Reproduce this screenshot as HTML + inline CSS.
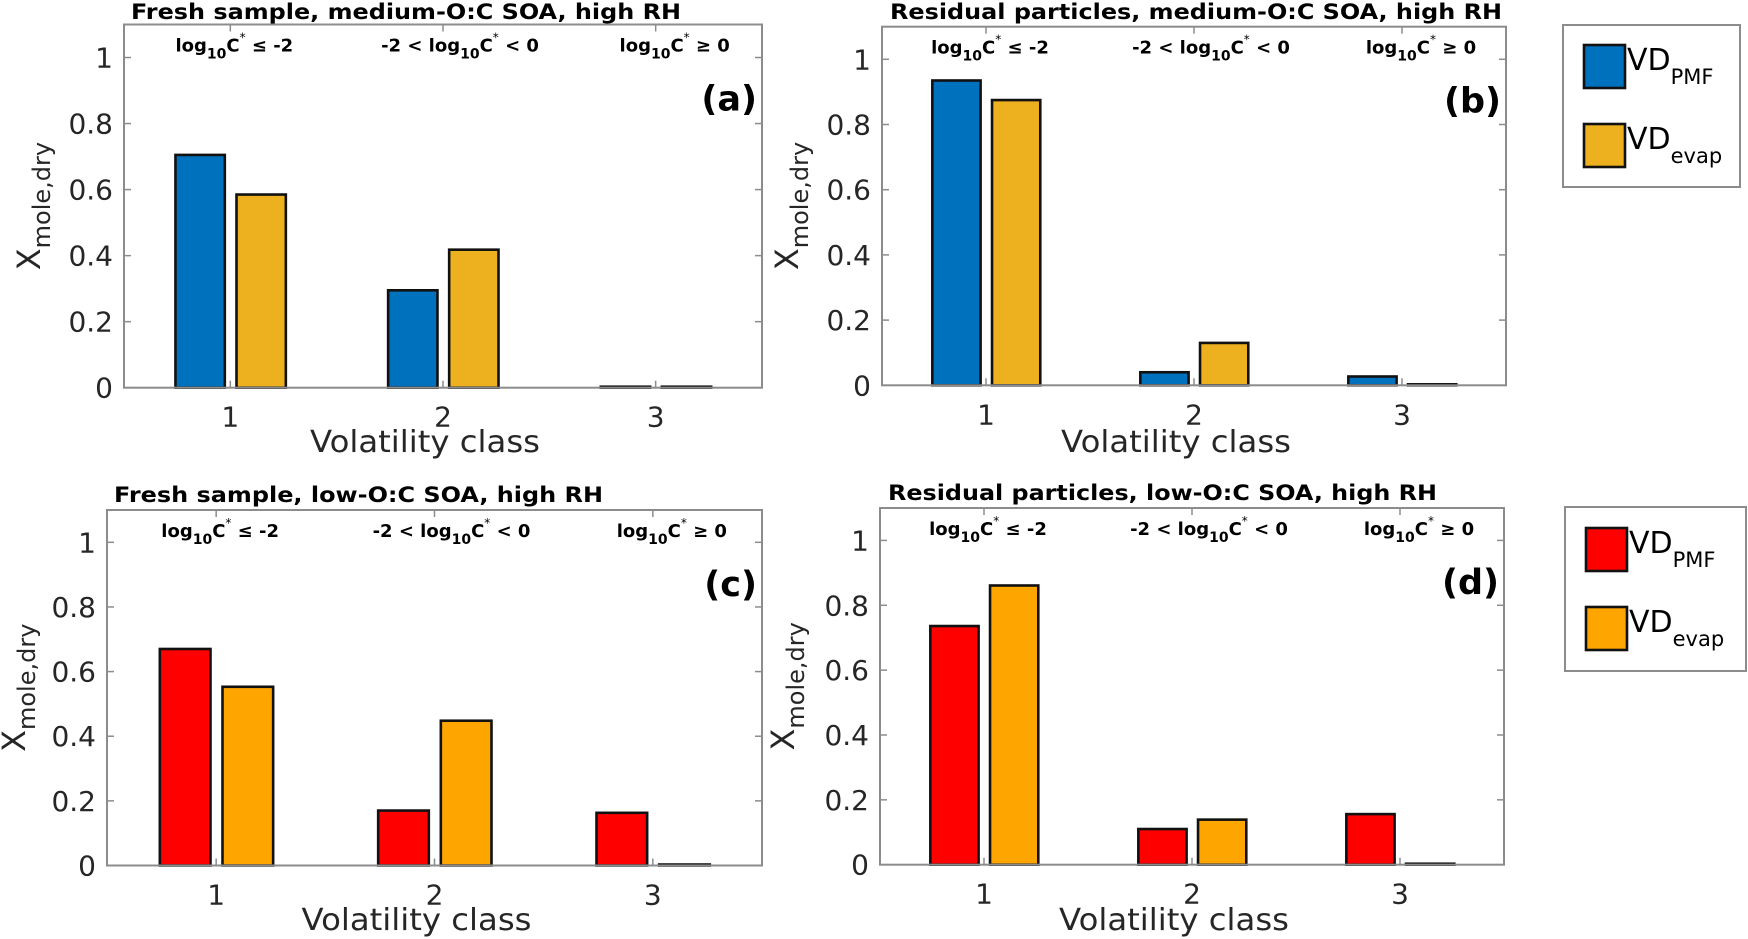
<!DOCTYPE html>
<html><head><meta charset="utf-8"><style>
html,body{margin:0;padding:0;background:#fff;}
svg{display:block;}
text{font-family:"DejaVu Sans","Liberation Sans",sans-serif;}
</style></head><body>
<svg id="fig" width="1748" height="939" viewBox="0 0 1748 939" xmlns="http://www.w3.org/2000/svg"></svg>
<script>
const categories = [1, 2, 3];
const yTicks = [0, 0.2, 0.4, 0.6, 0.8, 1];
const yTickLabels = ["0", "0.2", "0.4", "0.6", "0.8", "1"];
const rangeLabels = ["log10C* ≤ -2", "-2 < log10C* < 0", "log10C* ≥ 0"];
const seriesA_PMF = [0.705, 0.295, 0.003];
const seriesA_evap = [0.585, 0.418, 0.003];
const seriesB_PMF = [0.935, 0.040, 0.027];
const seriesB_evap = [0.875, 0.130, 0.003];
const seriesC_PMF = [0.670, 0.170, 0.163];
const seriesC_evap = [0.553, 0.448, 0.003];
const seriesD_PMF = [0.736, 0.110, 0.156];
const seriesD_evap = [0.861, 0.139, 0.003];
const panelTitles = ["Fresh sample, medium-O:C SOA, high RH","Residual particles, medium-O:C SOA, high RH","Fresh sample, low-O:C SOA, high RH","Residual particles, low-O:C SOA, high RH"];
const panelLetters = ["(a)","(b)","(c)","(d)"];

const NS = "http://www.w3.org/2000/svg";
const svg = document.getElementById('fig');
function mk(tag, attrs, parent){const e=document.createElementNS(NS,tag);for(const k in attrs)e.setAttribute(k,attrs[k]);(parent||svg).appendChild(e);return e;}

const labelShift = [4, 17, 19];
const panels = [
 {L:124,R:762,T:24.5,B:387.7,pmf:seriesA_PMF,ev:seriesA_evap,c1:"#0072BD",c2:"#EDB120",titleX:131,titleY:19,titleW:550,ylx:40,xly:452},
 {L:882,R:1506,T:26.7,B:385.3,pmf:seriesB_PMF,ev:seriesB_evap,c1:"#0072BD",c2:"#EDB120",titleX:890,titleY:19,titleW:612,ylx:798,xly:452},
 {L:107,R:762,T:510,B:865.5,pmf:seriesC_PMF,ev:seriesC_evap,c1:"#FF0000",c2:"#FFA500",titleX:114,titleY:502,titleW:489,ylx:25,xly:930},
 {L:880,R:1504,T:508,B:864.7,pmf:seriesD_PMF,ev:seriesD_evap,c1:"#FF0000",c2:"#FFA500",titleX:888,titleY:500,titleW:549,ylx:794,xly:930}
];

panels.forEach((p,i)=>{
  const g = mk('g',{});
  
  
  const xs = v => p.L + (v-0.5)/3*(p.R-p.L);
  const ys = v => p.B - v/1.1*(p.B-p.T);
  categories.forEach((c,j)=>{
    [[p.pmf,p.c1,-0.142,'pmf'],[p.ev,p.c2,0.145,'evap']].forEach(([arr,col,off,nm])=>{
      const w = 0.232;
      const x0 = xs(c+off-w/2), x1 = xs(c+off+w/2);
      const y0 = ys(arr[j]);
      const r = mk('rect',{x:x0,y:y0,width:x1-x0,height:Math.max(p.B-y0,0.5),fill:col,stroke:"#111",'stroke-width':2.6},g);
      
      
    });
  });
  const box = mk('rect',{x:p.L,y:p.T,width:p.R-p.L,height:p.B-p.T,fill:"none",stroke:"#8c8c8c",'stroke-width':2},g);
  
  
  yTicks.forEach((t,k)=>{
    const y = ys(t);
    mk('line',{x1:p.L,x2:p.L+7,y1:y,y2:y,stroke:"#8c8c8c",'stroke-width':1.5},g);
    mk('line',{x1:p.R,x2:p.R-7,y1:y,y2:y,stroke:"#8c8c8c",'stroke-width':1.5},g);
    const tl = mk('text',{x:p.L-11,y:y+10,'text-anchor':'end','font-size':28,fill:"#262626"},g);
    tl.textContent = yTickLabels[k];
    
    
  });
  categories.forEach((c,j)=>{
    const x = xs(c);
    mk('line',{x1:x,x2:x,y1:p.B,y2:p.B-7,stroke:"#8c8c8c",'stroke-width':1.5},g);
    mk('line',{x1:x,x2:x,y1:p.T,y2:p.T+7,stroke:"#8c8c8c",'stroke-width':1.5},g);
    const tl = mk('text',{x:x,y:p.B+39,'text-anchor':'middle','font-size':28,fill:"#262626"},g);
    tl.textContent = String(c);
    
    
    const a = mk('text',{x:x+labelShift[j],y:p.T+27,'text-anchor':'middle','font-size':18,'font-weight':'bold',fill:"#000"},g);
    
    
    const pre = j===1 ? "-2 < log" : "log";
    const post = j===0 ? " ≤ -2" : j===1 ? " < 0" : " ≥ 0";
    const t1 = mk('tspan',{},a); t1.textContent = pre;
    const t2 = mk('tspan',{dy:7,'font-size':14},a); t2.textContent = "10";
    const t3 = mk('tspan',{dy:-7},a); t3.textContent = "C";
    const t4 = mk('tspan',{dy:-10,'font-size':12,'font-weight':'normal'},a); t4.textContent = "*";
    const t5 = mk('tspan',{dy:10},a); t5.textContent = post;
  });
  const ti = mk('text',{x:p.titleX,y:p.titleY,'font-size':21,'font-weight':'bold',fill:"#000",textLength:p.titleW,lengthAdjust:"spacingAndGlyphs"},g);
  ti.textContent = panelTitles[i];
  
  
  const le = mk('text',{x:p.R-5,y:p.T+86,'text-anchor':'end','font-size':35,'font-weight':'bold',fill:"#000"},g);
  le.textContent = panelLetters[i];
  
  
  const xl = mk('text',{x:(p.L+p.R)/2-18,y:p.xly,'text-anchor':'middle','font-size':30,fill:"#262626",textLength:230,lengthAdjust:"spacingAndGlyphs"},g);
  xl.textContent = "Volatility class";
  
  
  const cy = (p.T+p.B)/2;
  const yl = mk('text',{x:0,y:0,'text-anchor':'middle','font-size':32,fill:"#262626",transform:`translate(${p.ylx},${cy}) rotate(-90)`},g);
  
  
  const y1 = mk('tspan',{},yl); y1.textContent="X";
  const y2 = mk('tspan',{dy:10,'font-size':24},yl); y2.textContent="mole,dry";
});

const legends = [
 {x:1563,y:25,w:177,h:162,c1:"#0072BD",c2:"#EDB120",s1:45,s2:124},
 {x:1565,y:507,w:181,h:164,c1:"#FF0000",c2:"#FFA500",s1:528,s2:607}
];
legends.forEach((l,i)=>{
  const g = mk('g',{});
  
  
  mk('rect',{x:l.x,y:l.y,width:l.w,height:l.h,fill:"#fff",stroke:"#8c8c8c",'stroke-width':2},g);
  [[l.s1,l.c1,"PMF"],[l.s2,l.c2,"evap"]].forEach(([sy,col,sub])=>{
    const e = mk('g',{},g);
    
    
    mk('rect',{x:l.x+21,y:sy,width:41,height:43,fill:col,stroke:"#111",'stroke-width':2.6},e);
    const t = mk('text',{x:l.x+64,y:sy+25,'font-size':30,fill:"#000"},e);
    const a = mk('tspan',{},t); a.textContent="VD";
    const b = mk('tspan',{dy:14,'font-size':21},t); b.textContent=sub;
  });
});
</script>
</body></html>
